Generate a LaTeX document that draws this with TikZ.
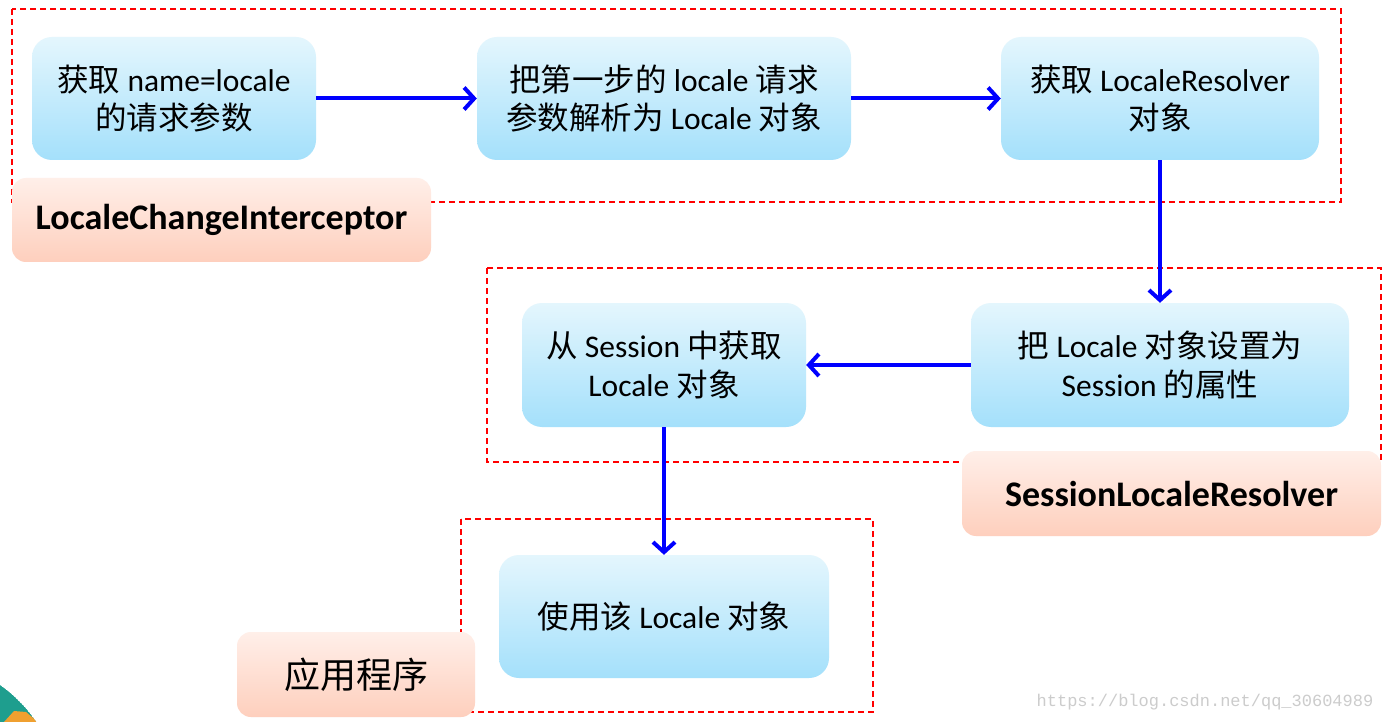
\documentclass[tikz,border=0pt]{standalone}
\usepackage{fontspec}
\setmainfont{Carlito}
\newfontfamily\cjk{Noto Sans CJK SC}
\newfontfamily\wm{Liberation Mono}
\usetikzlibrary{arrows.meta}
\definecolor{boxtop}{HTML}{E4F6FD}
\definecolor{boxbot}{HTML}{A4E0FB}
\definecolor{labtop}{HTML}{FFEFE9}
\definecolor{labbot}{HTML}{FECFBD}
\definecolor{dashred}{HTML}{FF0000}
\definecolor{arrblue}{HTML}{0000FF}
\definecolor{teal}{HTML}{1E9E8E}
\definecolor{orng}{HTML}{F0A030}
\begin{document}
\begin{tikzpicture}[x=1pt,y=-1pt,
  stepbox/.style={rounded corners=20pt, top color=boxtop, bottom color=boxbot,
    draw=none, align=center, inner sep=0pt,
    font=\fontsize{31.5}{38.5}\selectfont},
  labbox/.style={rounded corners=14pt, top color=labtop, bottom color=labbot,
    draw=none, align=center, inner sep=0pt},
  group/.style={draw=dashred, line width=1.6pt, dash pattern=on 6pt off 4pt},
  flow/.style={draw=arrblue, line width=4pt,
    -{Straight Barb[length=10pt,width=22pt,line width=4pt]}}
]
\useasboundingbox (0,0) rectangle (1382,722);
\fill[white] (0,0) rectangle (1382,722);
% corner decoration
\begin{scope}
\clip (0,0) rectangle (1382,722);
\clip (-80,800) circle (140);
\fill[teal] (-80,800) circle (140);
\fill[orng] (4,722) -- (14,711) -- (26,712) -- (38,722) -- cycle;
\end{scope}
% dashed groups
\draw[group] (12,9) rectangle (1341,202);
\draw[group] (487,268) rectangle (1381,462);
\draw[group] (461,519) rectangle (873,712);
% steps
\node[stepbox, minimum width=284pt, minimum height=123pt] (b1) at (174,98.5)
  {{\cjk 获取} name=locale\\{\cjk 的请求参数}};
\node[stepbox, minimum width=374pt, minimum height=123pt] (b2) at (664,98.5)
  {{\cjk 把第一步的} locale {\cjk 请求}\\{\cjk 参数解析为} Locale {\cjk 对象}};
\node[stepbox, minimum width=318pt, minimum height=123pt] (b3) at (1160,98.5)
  {{\cjk 获取} LocaleResolver\\{\cjk 对象}};
\node[stepbox, minimum width=378pt, minimum height=124pt] (b4) at (1160,365)
  {{\cjk 把} Locale {\cjk 对象设置为}\\Session {\cjk 的属性}};
\node[stepbox, minimum width=284pt, minimum height=124pt] (b5) at (664,365)
  {{\cjk 从} Session {\cjk 中获取}\\Locale {\cjk 对象}};
\node[stepbox, minimum width=330pt, minimum height=123pt] (b6) at (664,616.5)
  {{\cjk 使用该} Locale {\cjk 对象}};
% labels
\node[labbox, minimum width=419pt, minimum height=84pt,
  font=\fontsize{36}{40}\selectfont\bfseries] (l1) at (221.5,220) {LocaleChangeInterceptor};
\node[labbox, minimum width=419pt, minimum height=85pt,
  font=\fontsize{36}{40}\selectfont\bfseries] (l2) at (1171.5,493.5) {SessionLocaleResolver};
\node[labbox, minimum width=238pt, minimum height=85pt,
  font=\fontsize{36}{40}\selectfont\cjk] (l3) at (356,674.5) {应用程序};
% connectors
\draw[flow] (b1.east) -- (b2.west);
\draw[flow] (b2.east) -- (b3.west);
\draw[flow] (b3.south) -- (b4.north);
\draw[flow] (b4.west) -- (b5.east);
\draw[flow] (b5.south) -- (b6.north);
% watermark
\node[text=black!20, font=\fontsize{17}{20}\selectfont\wm, inner sep=0pt] (wm) at (1205,702)
  {https://blog.csdn.net/qq\_30604989};
\end{tikzpicture}
\end{document}
